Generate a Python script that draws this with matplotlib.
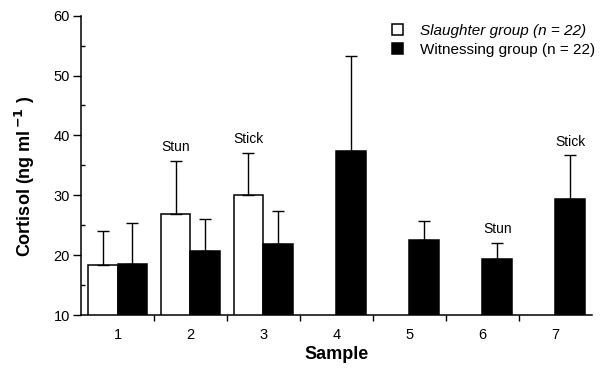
import numpy as np
import matplotlib
matplotlib.use('Agg')
import matplotlib.pyplot as plt
from matplotlib.ticker import MultipleLocator

plt.rcParams['font.family'] = ['Liberation Sans', 'DejaVu Sans']

samples = [1, 2, 3, 4, 5, 6, 7]
slaughter_x = [1, 2, 3]
slaughter_mean = [18.3, 26.8, 30.0]
slaughter_err = [5.7, 9.0, 7.1]
witness_x = [1, 2, 3, 4, 5, 6, 7]
witness_mean = [18.6, 20.7, 21.8, 37.4, 22.5, 19.3, 29.4]
witness_err = [6.7, 5.4, 5.6, 15.9, 3.2, 2.8, 7.3]
notes = [('Stun', 'slaughter', 2), ('Stick', 'slaughter', 3),
         ('Stun', 'witness', 6), ('Stick', 'witness', 7)]

fig = plt.figure(figsize=(6.05, 3.72), dpi=100)
ax = fig.add_axes([0.134, 0.153, 0.844, 0.805])

w = 0.41
sx = np.array(slaughter_x) - w / 2
wx = np.array(witness_x) + w / 2
ax.bar(sx, slaughter_mean, width=w, color='white', edgecolor='black', linewidth=1.1,
       label='Slaughter group (n = 22)')
ax.bar(wx, witness_mean, width=w, color='black', edgecolor='black', linewidth=1.1,
       label='Witnessing group (n = 22)')
ax.errorbar(sx, slaughter_mean, yerr=[np.zeros(3), slaughter_err], fmt='none',
            ecolor='black', elinewidth=1, capsize=4, capthick=1)
ax.errorbar(wx, witness_mean, yerr=[np.zeros(7), witness_err], fmt='none',
            ecolor='black', elinewidth=1, capsize=4, capthick=1)

for txt, grp, s in notes:
    if grp == 'slaughter':
        i = slaughter_x.index(s)
        x, top = sx[i], slaughter_mean[i] + slaughter_err[i]
    else:
        i = witness_x.index(s)
        x, top = wx[i], witness_mean[i] + witness_err[i]
    ax.text(x, top + 1.1, txt, ha='center', va='bottom', fontsize=10)

ax.set_xlim(0.5, 7.5)
ax.set_ylim(10, 60)
ax.set_xticks(samples)
ax.set_xticks(np.arange(1.5, 7.5, 1), minor=True)
ax.yaxis.set_major_locator(MultipleLocator(10))
ax.yaxis.set_minor_locator(MultipleLocator(5))
ax.tick_params(axis='both', which='major', labelsize=10.5, length=6, width=1, pad=2,
               direction='out')
ax.tick_params(axis='x', which='major', length=0, pad=9)
ax.tick_params(axis='x', which='minor', length=4, width=1, direction='out')
ax.tick_params(axis='y', which='minor', length=3, width=1, direction='in')
for sp in ['top', 'right']:
    ax.spines[sp].set_visible(False)
for sp in ['left', 'bottom']:
    ax.spines[sp].set_linewidth(1.1)

ax.set_xlabel('Sample', fontsize=13, fontweight='bold', labelpad=3)
ax.set_ylabel('Cortisol (ng ml$^{\\,\\mathbf{-1}}$ )', fontsize=13, fontweight='bold')
ax.yaxis.set_label_coords(-0.086, 0.463)

leg = fig.legend(loc='upper left', bbox_to_anchor=(392 / 605, 1 - 24 / 372), frameon=False,
                 fontsize=11, borderpad=0, borderaxespad=0, handlelength=0.75,
                 handleheight=0.75, handletextpad=1.05, labelspacing=0.3)
leg.get_texts()[0].set_style('italic')

fig.savefig('out.png', dpi=100)
